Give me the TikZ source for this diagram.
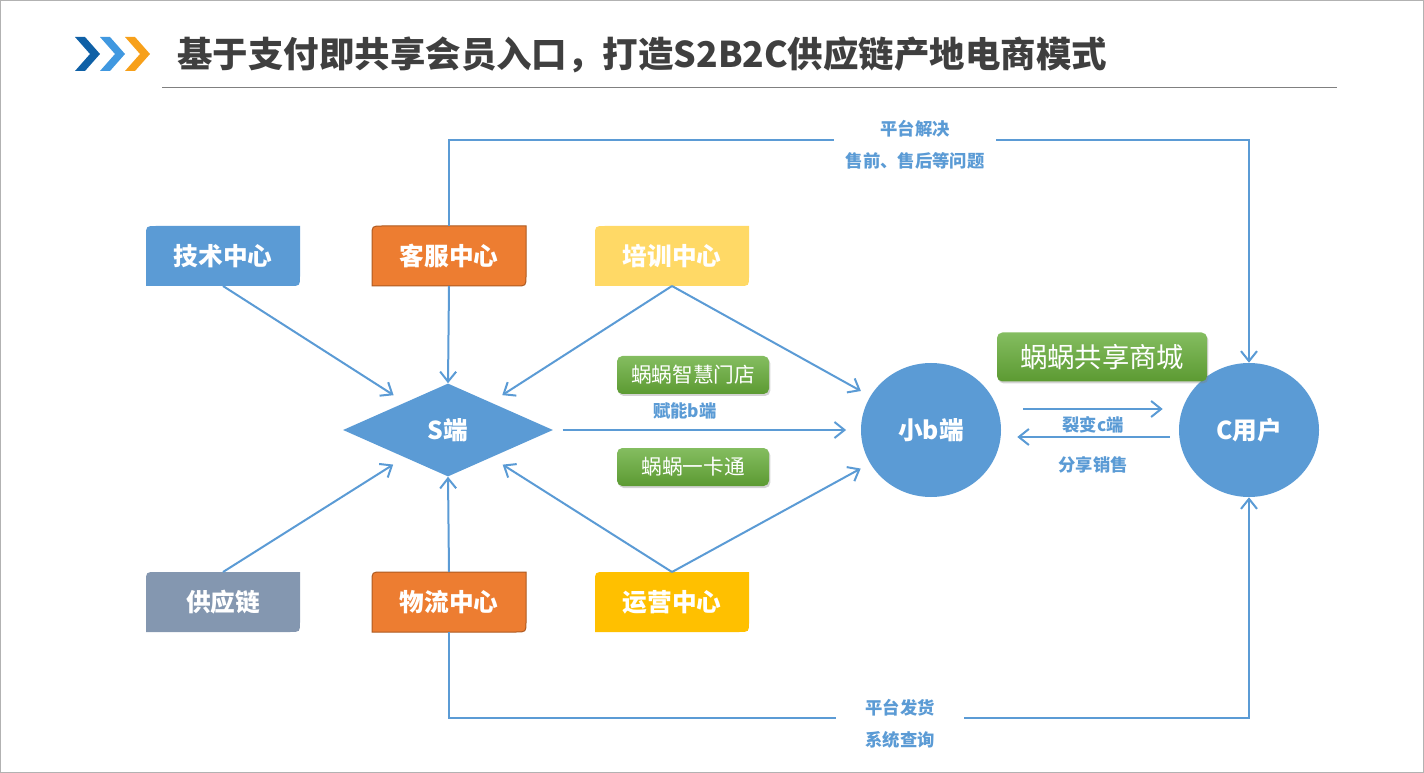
\documentclass[tikz,border=0pt]{standalone}
\usepackage{fontspec}
\setmainfont{Noto Sans CJK SC}
\usetikzlibrary{arrows.meta,positioning,shapes.geometric,shadows,backgrounds}
\definecolor{hubblue}{HTML}{5B9BD5}
\definecolor{huborange}{HTML}{ED7D31}
\definecolor{hubedge}{HTML}{AE5A21}
\definecolor{hubyellow}{HTML}{FFD966}
\definecolor{hubgold}{HTML}{FFC000}
\definecolor{hubslate}{HTML}{8497B0}
\definecolor{tagtop}{HTML}{84BD60}
\definecolor{tagbot}{HTML}{5C9A32}
\definecolor{titlegray}{HTML}{3F3F3F}
\definecolor{chevdark}{HTML}{0F60A6}
\definecolor{chevlight}{HTML}{4098E0}
\definecolor{chevorange}{HTML}{F7A01A}

\begin{document}
\begin{tikzpicture}[x=0.75pt, y=-0.75pt,
  hub/.style={rectangle, inner sep=0pt, outer sep=0pt,
              minimum width=115.5pt, minimum height=45pt,
              font=\fontsize{18.5}{20}\selectfont\bfseries, text=white},
  sdiamond/.style={diamond, fill=hubblue, inner sep=0pt, aspect=2.26,
                   minimum width=157.5pt, minimum height=69.75pt,
                   font=\fontsize{18.5}{20}\selectfont\bfseries, text=white},
  party/.style={ellipse, fill=hubblue, inner sep=0pt,
                minimum width=105pt, minimum height=100.5pt,
                font=\fontsize{18.5}{20}\selectfont\bfseries, text=white},
  tag/.style={rectangle, rounded corners=4pt, top color=tagtop, bottom color=tagbot,
              drop shadow={shadow xshift=1pt, shadow yshift=-1.5pt, opacity=0.35},
              minimum width=114pt, minimum height=28.5pt, inner sep=0pt,
              font=\fontsize{15.5}{17}\selectfont, text=white},
  note/.style={font=\fontsize{13}{15}\selectfont\bfseries, text=hubblue, align=center},
  arr/.style={-{Straight Barb[length=7.5pt, width=12pt]}, line width=1.5pt, draw=hubblue}
]
\useasboundingbox (0,0) rectangle (1424,773);
\draw[gray!60, line width=0.75pt] (0.5,0.5) rectangle (1423.5,772.5);

% Title
\foreach \dx/\c in {0/chevdark, 25/chevlight, 50/chevorange}
  \fill[\c] (75+\dx,37) -- (85+\dx,37) -- (100+\dx,54) -- (85+\dx,71)
            -- (75+\dx,71) -- (90+\dx,54) -- cycle;
\node[anchor=west, inner sep=0pt, text=titlegray, font=\fontsize{26.6}{30}\selectfont\bfseries]
  (title) at (177,55) {基于支付即共享会员入口，打造S2B2C供应链产地电商模式};
\draw[gray, line width=0.75pt] (162,88) -- (1337,88);

% Centre boxes
\node[hub] (tech)   at (223,256) {技术中心};
\node[hub] (serv)   at (449,256) {客服中心};
\node[hub] (train)  at (672,256) {培训中心};
\node[hub] (supply) at (223,602) {供应链};
\node[hub] (logi)   at (449,602) {物流中心};
\node[hub] (ops)    at (672,602) {运营中心};

\begin{scope}[on background layer]
\foreach \n/\c/\e in {tech/hubblue/none, serv/huborange/hubedge, train/hubyellow/none,
                      supply/hubslate/none, logi/huborange/hubedge, ops/hubgold/none}
  \path[fill=\c, draw=\e, line width=0.75pt]
    (\n.south west) -- ([yshift=-7.5pt]\n.north west) .. controls (\n.north west) .. ([xshift=7.5pt]\n.north west)
    -- (\n.north east) -- ([yshift=7.5pt]\n.south east) .. controls (\n.south east) .. ([xshift=-7.5pt]\n.south east)
    -- cycle;
\end{scope}

% S, b and C
\node[sdiamond] (S)  at (448,430)  {S端};
\node[party]    (sb) at (931,430)  {小b端};
\node[party]    (C)  at (1249,430) {C用户};

% Tags
\node[tag] (shop) at (693,375) {蜗蜗智慧门店};
\node[tag] (card) at (693,467) {蜗蜗一卡通};
\node[tag, minimum width=157.5pt, minimum height=36.75pt,
      font=\fontsize{20.5}{22}\selectfont] (mall) at (1102,357) {蜗蜗共享商城};

% Arrows into S and b
\draw[arr, shorten >=10pt] (tech.south)   -- (S);
\draw[arr]                 (serv.south)   -- (S.north);
\draw[arr, shorten >=10pt] (train.south)  -- (S);
\draw[arr, shorten >=8pt]  (train.south)  -- (sb);
\draw[arr, shorten >=10pt] (supply.north) -- (S);
\draw[arr]                 (logi.north)   -- (S.south);
\draw[arr, shorten >=10pt] (ops.north)    -- (S);
\draw[arr, shorten >=8pt]  (ops.north)    -- (sb);
\draw[arr, shorten <=7pt, shorten >=11pt] (S.east) -- (sb.west);
\node[note] (enable) at (685,411) {赋能b端};

% b and C
\draw[arr] ([xshift=16.5pt, yshift=15.75pt]sb.east) -- ([xshift=-12pt, yshift=15.75pt]C.west);
\draw[arr] ([xshift=-6.75pt, yshift=-5.25pt]C.west) -- ([xshift=12pt, yshift=-5.25pt]sb.east);
\node[note] (split) at (1093,425) {裂变c端};
\node[note] (share) at (1093,465) {分享销售};

% Service and delivery loops
\draw[arr] (serv.north) -- ++(0,-86) -| (C.north);
\node[note, fill=white, inner xsep=9pt, text depth=0pt] (topnote) at (915,144)
  {平台解决\\[9pt]售前、售后等问题};
\draw[arr] (logi.south) -- ++(0,86) -| (C.south);
\node[note, fill=white, inner xsep=22pt] (botnote) at (900,724)
  {平台发货\\[9pt]系统查询};
\end{tikzpicture}
\end{document}
